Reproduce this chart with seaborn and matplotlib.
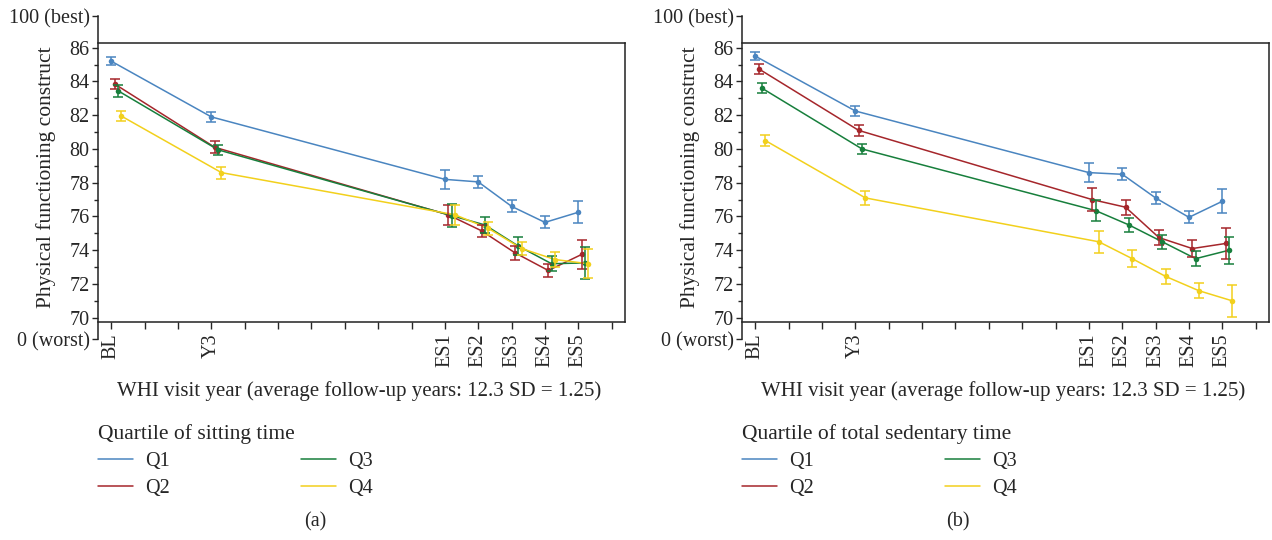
import numpy as np
import pandas as pd
import seaborn as sns
import matplotlib.pyplot as plt
from matplotlib.lines import Line2D

visit_labels = ["BL", "Y3", "ES1", "ES2", "ES3", "ES4", "ES5"]
visit_years = [0, 3, 10, 11, 12, 13, 14]
quartiles = ["Q1", "Q2", "Q3", "Q4"]

# (a) quartile of sitting time
sit_q1 = [85.2, 81.9, 78.2, 78.05, 76.6, 75.65, 76.25]
sit_q2 = [83.85, 80.1, 76.1, 75.15, 73.85, 72.8, 73.75]
sit_q3 = [83.45, 79.95, 76.05, 75.5, 74.25, 73.2, 73.25]
sit_q4 = [81.95, 78.6, 76.1, 75.3, 74.1, 73.45, 73.2]
sit_q1_err = [0.25, 0.3, 0.55, 0.35, 0.35, 0.35, 0.65]
sit_q2_err = [0.3, 0.35, 0.6, 0.35, 0.4, 0.4, 0.85]
sit_q3_err = [0.35, 0.3, 0.7, 0.45, 0.55, 0.45, 0.95]
sit_q4_err = [0.3, 0.35, 0.6, 0.4, 0.4, 0.45, 0.85]

# (b) quartile of total sedentary time
sed_q1 = [85.5, 82.25, 78.6, 78.5, 77.1, 75.95, 76.9]
sed_q2 = [84.75, 81.1, 77.0, 76.55, 74.75, 74.1, 74.4]
sed_q3 = [83.6, 80.0, 76.35, 75.5, 74.5, 73.5, 74.0]
sed_q4 = [80.5, 77.1, 74.5, 73.5, 72.45, 71.6, 71.0]
sed_q1_err = [0.25, 0.3, 0.55, 0.35, 0.35, 0.35, 0.7]
sed_q2_err = [0.3, 0.35, 0.7, 0.45, 0.45, 0.5, 0.9]
sed_q3_err = [0.3, 0.3, 0.6, 0.4, 0.4, 0.45, 0.8]
sed_q4_err = [0.35, 0.4, 0.65, 0.5, 0.45, 0.45, 0.95]

colors = {"Q1": "#4a85c0", "Q2": "#a5262b", "Q3": "#177f3c", "Q4": "#f2d01c"}

sns.set_style("ticks")
plt.rcParams["font.family"] = ["Liberation Serif", "DejaVu Serif"]
plt.rcParams["font.size"] = 14.5
plt.rcParams["axes.edgecolor"] = "#222222"


def build_frame(values, errors):
    rows = []
    for i, q in enumerate(quartiles):
        for yr, v, e in zip(visit_years, values[i], errors[i]):
            rows.append({"quartile": q, "year": yr, "xpos": yr + 0.1 * i,
                         "value": v, "err": e})
    return pd.DataFrame(rows)


df_sit = build_frame([sit_q1, sit_q2, sit_q3, sit_q4],
                     [sit_q1_err, sit_q2_err, sit_q3_err, sit_q4_err])
df_sed = build_frame([sed_q1, sed_q2, sed_q3, sed_q4],
                     [sed_q1_err, sed_q2_err, sed_q3_err, sed_q4_err])

fig = plt.figure(figsize=(12.72, 5.4), dpi=100)

Y_LOW, Y_HIGH = 68.74, 87.88
BOX_LOW, BOX_HIGH = 69.73, 86.26


def draw_panel(ax, df, legend_title, tag, tag_x):
    sns.lineplot(data=df, x="xpos", y="value", hue="quartile", palette=colors,
                 marker="o", markersize=4, markeredgewidth=0, linewidth=1.1,
                 errorbar=None, legend=False, ax=ax)
    for q in quartiles:
        d = df[df["quartile"] == q]
        ax.errorbar(d["xpos"], d["value"], yerr=d["err"], fmt="none",
                    ecolor=colors[q], elinewidth=1.1, capsize=3.3, capthick=1.1)

    ax.set_ylim(Y_LOW, Y_HIGH)
    ax.set_xlim(-0.4, 15.4)

    # spine placement resets the ticks, so do it before styling them
    ax.spines["bottom"].set_position(("data", BOX_LOW))
    ax.spines["top"].set_position(("data", BOX_HIGH))
    ax.spines["right"].set_bounds(BOX_LOW, BOX_HIGH)
    for s in ax.spines.values():
        s.set_linewidth(1.1)

    major = list(range(70, 87, 2))
    ax.set_yticks([Y_LOW] + major + [Y_HIGH])
    ax.set_yticklabels(["0 (worst)"] + [str(v) for v in major] + ["100 (best)"])
    ax.set_yticks(list(range(71, 86, 2)), minor=True)

    ax.set_xticks(range(16))
    lab = {yr: l for yr, l in zip(visit_years, visit_labels)}
    ax.set_xticklabels([lab.get(i, "") for i in range(16)])

    ax.tick_params(axis="y", which="major", length=4, width=1, pad=2)
    ax.tick_params(axis="y", which="minor", length=3, width=1)
    ax.tick_params(axis="x", which="major", length=5, width=1, pad=3,
                   labelrotation=90)

    ax.set_ylabel("Physical functioning construct", fontsize=15.5)
    ax.yaxis.set_label_coords(-0.08, 0.5)
    ax.set_xlabel("WHI visit year (average follow-up years: 12.3 SD = 1.25)",
                  fontsize=15)
    ax.xaxis.set_label_coords(0.495, -0.13)

    handles = [Line2D([], [], color=colors[q], lw=1.1) for q in quartiles]
    ax.legend(handles, quartiles, title=legend_title, ncol=2,
              loc="upper left", bbox_to_anchor=(0.0, -0.262),
              frameon=False, handlelength=1.75, handletextpad=0.6,
              columnspacing=6.5, labelspacing=0.4, borderaxespad=0,
              borderpad=0, alignment="left",
              title_fontsize=15.5, fontsize=14.5)
    fig.text(tag_x, 1 - 522 / 540, tag, ha="center", va="center")


ax_a = fig.add_axes([98 / 1272, 1 - 339 / 540, 527 / 1272, 323 / 540])
ax_b = fig.add_axes([742 / 1272, 1 - 339 / 540, 527 / 1272, 323 / 540])

draw_panel(ax_a, df_sit, "Quartile of sitting time", "(a)", 315 / 1272)
draw_panel(ax_b, df_sed, "Quartile of total sedentary time", "(b)", 958 / 1272)

fig.savefig("out.png", dpi=100)
